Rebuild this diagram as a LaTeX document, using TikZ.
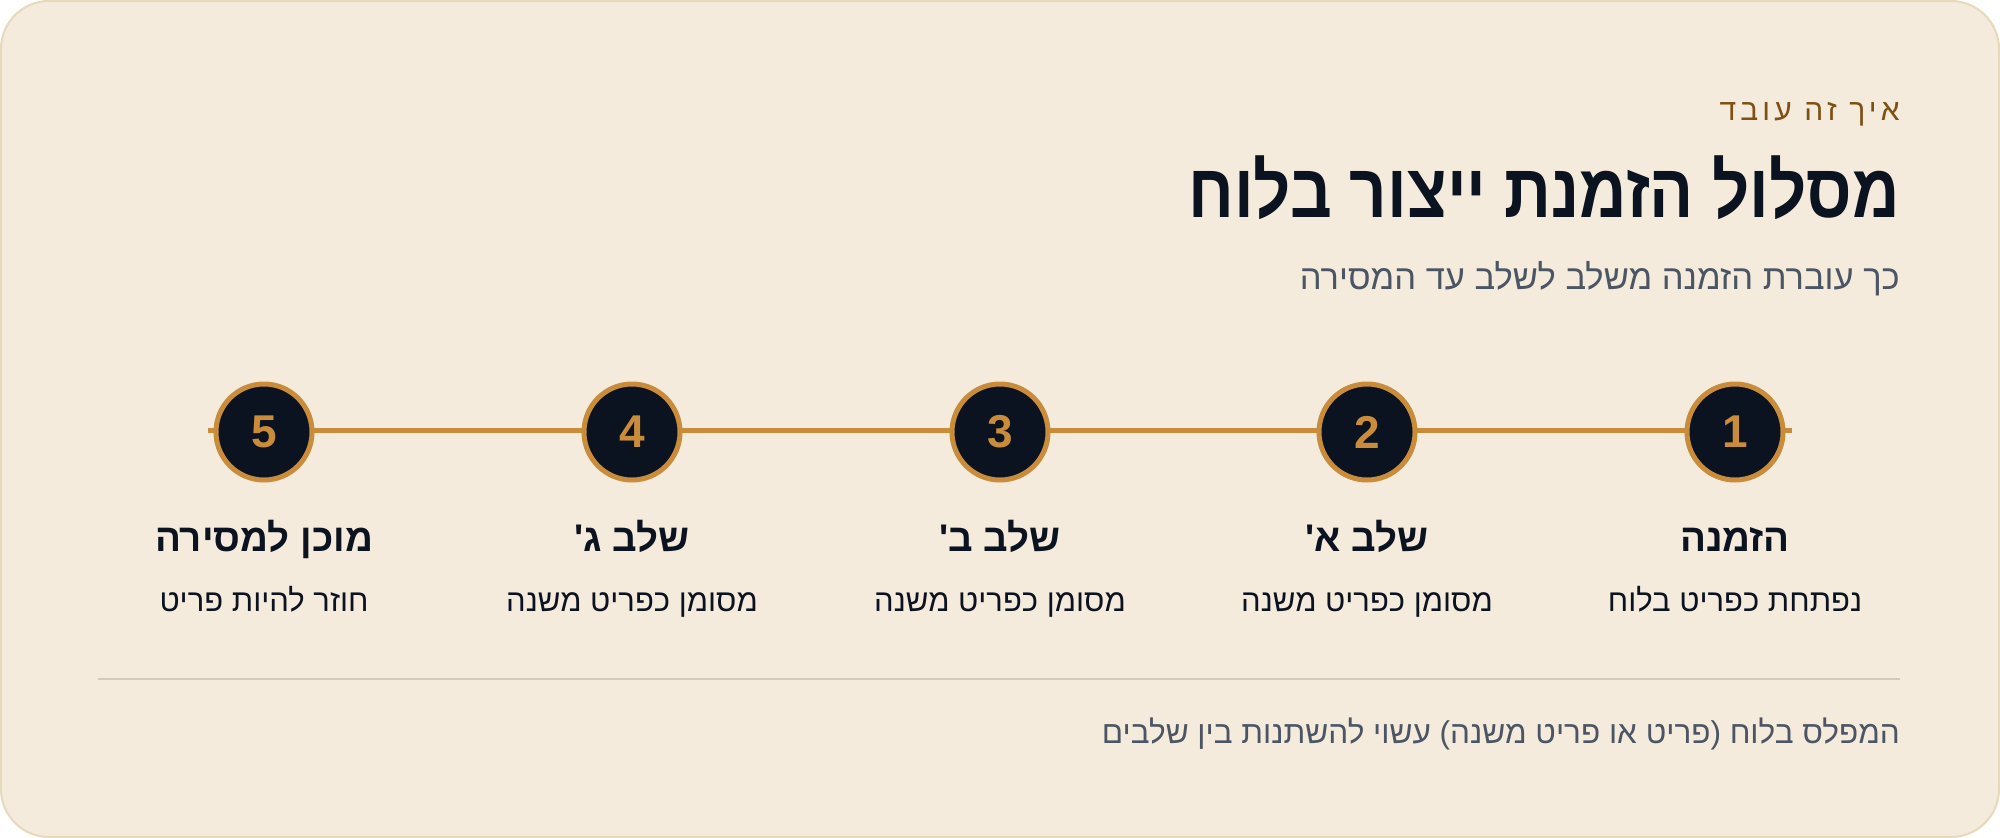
\documentclass[tikz,border=0pt]{standalone}
\usepackage{fontspec}
\usepackage{xcolor}
\usetikzlibrary{positioning}
\setmainfont{Liberation Sans}
\newfontfamily\hebfont[Script=Hebrew]{Liberation Sans}
\newfontfamily\hebnarrow[Script=Hebrew,FakeStretch=0.86]{Liberation Sans}
\newfontfamily\hebspaced[Script=Hebrew,LetterSpace=14]{Liberation Sans}
\TeXXeTstate=1
\definecolor{cardfill}{HTML}{F4EBDC}
\definecolor{cardline}{HTML}{E6D9BC}
\definecolor{kickerbrown}{HTML}{7E5012}
\definecolor{inkblue}{HTML}{0B1220}
\definecolor{slate}{HTML}{4B5563}
\definecolor{gold}{HTML}{C98C3A}
\definecolor{rule}{HTML}{D3CAB9}

\begin{document}
\begin{tikzpicture}[x=1pt,y=-1pt,
  kicker/.style={anchor=base east,inner sep=0,text=kickerbrown,font=\hebspaced\fontsize{30}{34}\selectfont},
  headline/.style={anchor=base east,inner sep=0,text=inkblue,font=\hebnarrow\bfseries\fontsize{76}{82}\selectfont},
  subline/.style={anchor=base east,inner sep=0,text=slate,font=\hebfont\fontsize{34.5}{40}\selectfont},
  stepdot/.style={circle,draw=gold,fill=inkblue,line width=5pt,minimum size=96pt,inner sep=0,
    text=gold,font=\bfseries\fontsize{46}{50}\selectfont},
  steptitle/.style={anchor=base,inner sep=0,text=inkblue,font=\hebfont\bfseries\fontsize{38.5}{42}\selectfont},
  stepnote/.style={anchor=base,inner sep=0,text=inkblue,font=\hebfont\fontsize{31}{34}\selectfont},
  track/.style={draw=gold,line width=5pt}]
%% background and card
\fill[white] (0,0) rectangle (2000,838);
\draw[fill=cardfill,draw=cardline,line width=2pt,rounded corners=48pt] (1,1) rectangle (1999,837);
%% header texts
\node[kicker] (kicker) at (1900,120) {\beginR איך זה עובד\endR};
\node[headline] (headline) at (1900,217) {\beginR מסלול הזמנת ייצור בלוח\endR};
\node[subline] (subline) at (1900,289) {\beginR כך עוברת הזמנה משלב לשלב עד המסירה\endR};
%% the track behind the steps
\coordinate (trackL) at (208,430);
\coordinate (trackR) at (1792,430);
\draw[track] (trackL) -- (trackR);
%% steps, right to left
\foreach \n/\x/\ttl/\dsc in {1/1735/הזמנה/נפתחת כפריט בלוח,
                             2/1367/שלב א'/מסומן כפריט משנה,
                             3/1000/שלב ב'/מסומן כפריט משנה,
                             4/632/שלב ג'/מסומן כפריט משנה,
                             5/264/מוכן למסירה/חוזר להיות פריט}{
  \node[stepdot] (step\n) at (\x,432) {\n};
  \node[steptitle] (title\n) at (\x,551) {\beginR\ttl\endR};
  \node[stepnote] (note\n) at (\x,611) {\beginR\dsc\endR};
}
%% footer
\coordinate (ruleL) at (98,679);
\coordinate (ruleR) at (1900,679);
\draw[draw=rule,line width=2pt] (ruleL) -- (ruleR);
\node[subline,font=\hebfont\fontsize{31.5}{36}\selectfont] (footnote) at (1900,743)
  {\beginR המפלס בלוח (פריט או פריט משנה) עשוי להשתנות בין שלבים\endR};
\end{tikzpicture}
\end{document}
